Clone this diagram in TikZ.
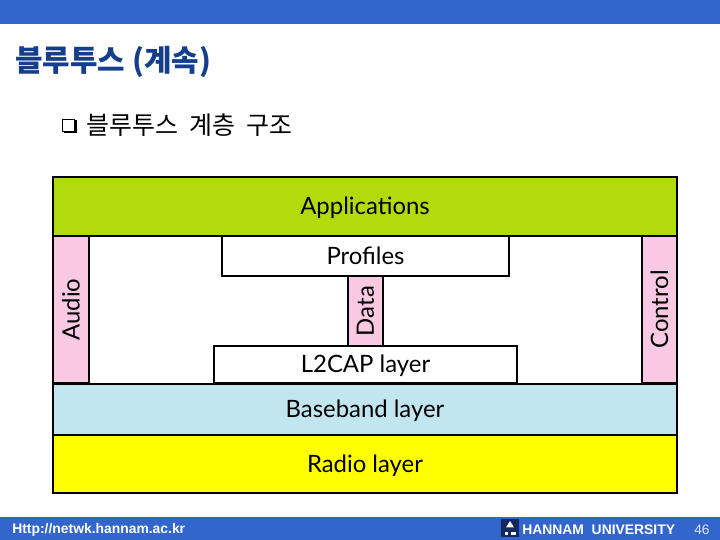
\documentclass[tikz,border=0pt]{standalone}
\usepackage{fontspec}
\setmainfont{Lato}
\newfontfamily\krfont{Noto Sans CJK KR}
\newfontfamily\footfont{Liberation Sans}
\usetikzlibrary{positioning}
\definecolor{Bar}{HTML}{3366CC}
\definecolor{Title}{HTML}{153E8C}
\definecolor{Logo}{HTML}{14275E}
\definecolor{Lime}{HTML}{B2DB0E}
\definecolor{Pink}{HTML}{F9C8E3}
\definecolor{Sky}{HTML}{C1E6F0}
\definecolor{Sun}{HTML}{FFFF00}
\tikzset{
  layer/.style={draw=black,line width=0.7pt,inner sep=0pt,font=\fontsize{13.6}{16}\selectfont},
  flatlayer/.style={layer,text height=10pt,text depth=0.4pt},
  footer/.style={inner sep=0pt,text=white},
}

\begin{document}
\begin{tikzpicture}
  \useasboundingbox (0,0) rectangle (14.4,10.8);
  % bars
  \node[fill=Bar,inner sep=0pt,minimum width=14.4cm,minimum height=0.48cm] (topbar) at (7.2,10.56) {};
  \node[fill=Bar,inner sep=0pt,minimum width=14.4cm,minimum height=0.46cm] (footbar) at (7.2,0.23) {};
  % headings
  \node[anchor=west,inner sep=0pt,text=Title,font=\krfont\bfseries\fontsize{17}{20}\selectfont] (title) at (0.3,9.56) {블루투스 (계속)};
  \node[draw=black,fill=white,line width=0.5pt,inner sep=0pt,minimum size=0.24cm] (bullet) at (1.37,8.3) {};
  \draw[black,line width=1pt] (bullet.south west)++(0.03,-0.02) -- ([shift={(0.02,-0.02)}]bullet.south east) -- ([shift={(0.02,-0.03)}]bullet.north east);
  \node[anchor=west,inner sep=0pt,font=\krfont\fontsize{14.2}{17}\selectfont] (sub) at (1.72,8.3) {블루투스\ \ 계층\ \ 구조};
  % stack
  \node[flatlayer,fill=Lime,minimum width=12.48cm,minimum height=1.18cm] (apps) at (7.3,6.67) {Applications};
  \node[layer,fill=Pink,rotate=90,minimum width=2.94cm,minimum height=0.72cm] (audio) at (1.42,4.61) {Audio};
  \node[layer,fill=Pink,rotate=90,minimum width=2.94cm,minimum height=0.70cm] (control) at (13.19,4.61) {Control};
  \node[flatlayer,fill=white,minimum width=5.74cm,minimum height=0.8cm] (profiles) at (7.31,5.68) {Profiles};
  \node[layer,fill=Pink,rotate=90,minimum width=1.4cm,minimum height=0.70cm] (data) at (7.31,4.58) {Data};
  \node[flatlayer,fill=white,minimum width=6.06cm,minimum height=0.74cm] (l2cap) at (7.31,3.51) {L2CAP layer};
  \node[flatlayer,fill=Sky,minimum width=12.48cm,minimum height=1.02cm] (baseband) at (7.3,2.61) {Baseband layer};
  \node[flatlayer,fill=Sun,minimum width=12.48cm,minimum height=1.16cm] (radio) at (7.3,1.52) {Radio layer};
  % footer
  \node[footer,anchor=west,font=\footfont\bfseries\fontsize{7.9}{9}\selectfont] (url) at (0.24,0.21) {Http://netwk.hannam.ac.kr};
  \node[fill=Logo,inner sep=0pt,minimum size=0.36cm] (logo) at (10.2,0.24) {};
  \fill[white] (logo.center) ++(0,0.14) -- ++(0.08,-0.13) -- ++(-0.16,0) -- cycle;
  \fill[white] (logo.center) ++(-0.1,-0.09) rectangle ++(0.06,-0.05);
  \fill[white] (logo.center) ++(0.02,-0.09) rectangle ++(0.09,-0.05);
  \node[footer,anchor=west,font=\footfont\bfseries\fontsize{7.9}{9}\selectfont] (univ) at (10.44,0.2) {HANNAM\ \ UNIVERSITY};
  \node[footer,anchor=west,text=white!85!Bar,font=\footfont\fontsize{7.8}{9}\selectfont] (page) at (13.88,0.2) {46};
\end{tikzpicture}
\end{document}
